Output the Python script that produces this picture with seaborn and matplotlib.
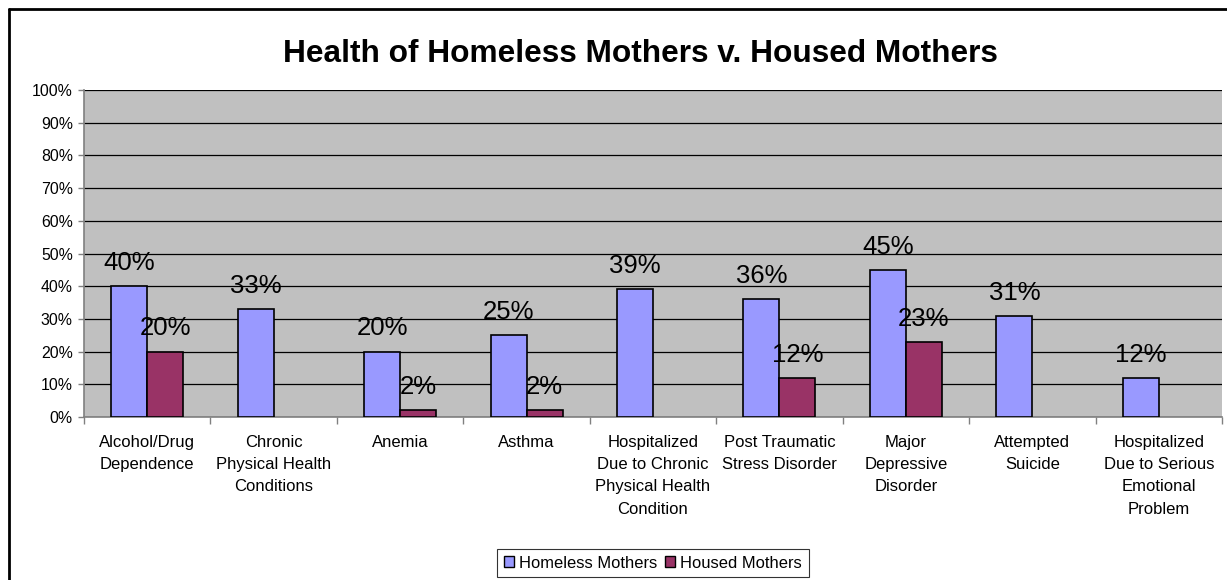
import matplotlib
matplotlib.use("Agg")
import matplotlib.pyplot as plt
import seaborn as sns
import pandas as pd
import numpy as np
from matplotlib.lines import Line2D

# data
categories = [
    "Alcohol/Drug\nDependence",
    "Chronic\nPhysical Health\nConditions",
    "Anemia",
    "Asthma",
    "Hospitalized\nDue to Chronic\nPhysical Health\nCondition",
    "Post Traumatic\nStress Disorder",
    "Major\nDepressive\nDisorder",
    "Attempted\nSuicide",
    "Hospitalized\nDue to Serious\nEmotional\nProblem",
]
homeless = [40, 33, 20, 25, 39, 36, 45, 31, 12]
housed = [20, None, 2, 2, None, 12, 23, None, None]
series = ["Homeless Mothers", "Housed Mothers"]
colors = ["#9999FF", "#993366"]

rows = []
for cat, h, o in zip(categories, homeless, housed):
    rows.append({"cat": cat, "group": series[0], "pct": h})
    if o is not None:
        rows.append({"cat": cat, "group": series[1], "pct": o})
df = pd.DataFrame(rows)

sns.set_theme(style="white")
plt.rcParams["font.family"] = ["Liberation Sans", "DejaVu Sans"]
plt.rcParams["text.color"] = "black"
plt.rcParams["xtick.color"] = "black"
plt.rcParams["ytick.color"] = "black"

fig = plt.figure(figsize=(12.27, 5.8), dpi=100)
ax = fig.add_axes([84 / 1227, 1 - 417 / 580, (1222 - 84) / 1227, (417 - 90) / 580])
ax.set_facecolor("#C0C0C0")

sns.barplot(data=df, x="cat", y="pct", hue="group", order=categories,
            hue_order=series, palette=colors, width=0.57, edgecolor="black",
            linewidth=1.2, saturation=1, ax=ax, legend=False, zorder=3)

for cont in ax.containers:
    ax.bar_label(cont, fmt="%.0f%%", padding=8, fontsize=18.5, color="black")

ax.set_ylim(0, 100)
ax.set_xlim(-0.5, len(categories) - 0.5)
ax.set_yticks(np.arange(0, 101, 10))
ax.set_yticklabels([f"{v}%" for v in range(0, 101, 10)], fontsize=11.4)
ax.yaxis.grid(True, color="black", linewidth=0.9, zorder=0)
ax.set_axisbelow(True)
ax.set_xlabel("")
ax.set_ylabel("")

ax.set_xticks(range(len(categories)))
ax.set_xticklabels(categories, fontsize=12, linespacing=1.6, va="top")
ax.tick_params(axis="x", which="major", length=0, pad=13, colors="black")
ax.set_xticks(np.arange(-0.5, len(categories), 1), minor=True)
ax.tick_params(axis="x", which="minor", length=5, color="#808080", width=1, bottom=True)
ax.tick_params(axis="y", length=4, color="#808080", labelcolor="black", width=1, left=True, pad=4)

for side in ["top", "right"]:
    ax.spines[side].set_visible(False)
for side in ["left", "bottom"]:
    ax.spines[side].set_color("#808080")
    ax.spines[side].set_linewidth(1.2)

fig.text(640 / 1227, 1 - 54 / 580, "Health of Homeless Mothers v. Housed Mothers",
         ha="center", va="center", fontsize=22.8, fontweight="bold", color="black")

handles = [plt.Rectangle((0, 0), 1, 1, facecolor=c, edgecolor="black", linewidth=1) for c in colors]
leg = fig.legend(handles, series, loc="center", bbox_to_anchor=(653 / 1227, 1 - 563 / 580),
                 ncol=2, fontsize=11.9, frameon=True, fancybox=False, edgecolor="black",
                 handlelength=0.6, handleheight=0.6, handletextpad=0.3, columnspacing=0.5,
                 borderpad=0.4)
leg.get_frame().set_linewidth(0.8)

# outer chart border (top and left visible)
fig.add_artist(Line2D([9 / 1227, 1], [1 - 9 / 580, 1 - 9 / 580], color="black", lw=2, transform=fig.transFigure))
fig.add_artist(Line2D([9 / 1227, 9 / 1227], [0, 1 - 9 / 580], color="black", lw=2, transform=fig.transFigure))

fig.savefig("out.png", dpi=100)
